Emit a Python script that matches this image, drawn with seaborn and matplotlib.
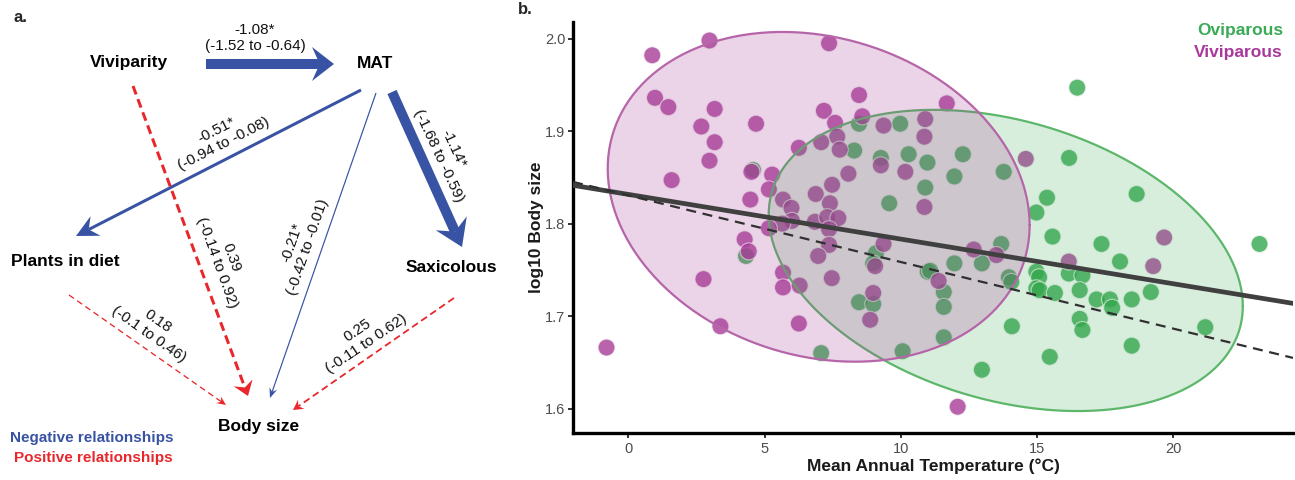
import numpy as np
import pandas as pd
import matplotlib
matplotlib.use("Agg")
import matplotlib.pyplot as plt
from matplotlib.patches import Polygon
import seaborn as sns

# ---------------- data ----------------
viv_temp = [0.88, 2.98, 7.37, 0.98, 1.47, 3.17, 2.68, 4.69, 3.17, 2.98, 1.59, 4.52, 5.28, 5.16, 4.48,
            8.47, 8.59, 7.18, 7.59, 7.67, 7.76, 7.08, 6.26, 8.08, 7.48, 6.88, 7.40, 9.37, 10.90, 10.87,
            9.27, 10.17, 10.87, 5.68, 5.99, 11.69, 14.59, 6.01, 5.65, 5.16, 6.85, 7.30, 7.71, 7.37, 7.37,
            6.97, 4.27, 4.42, 2.76, 5.68, 5.68, 6.29, 7.47, 9.37, 8.99, 8.88, 6.26, 3.38, -0.80, 19.67,
            19.27, 16.17, 12.68, 13.51, 11.39, 12.09, 9.06]
viv_size = [1.982, 1.998, 1.995, 1.936, 1.926, 1.924, 1.905, 1.908, 1.888, 1.868, 1.847, 1.856, 1.853, 1.837, 1.826,
            1.939, 1.916, 1.922, 1.909, 1.894, 1.880, 1.888, 1.882, 1.854, 1.842, 1.832, 1.822, 1.906, 1.913, 1.894,
            1.863, 1.856, 1.818, 1.826, 1.817, 1.930, 1.870, 1.803, 1.800, 1.795, 1.802, 1.807, 1.806, 1.794, 1.777,
            1.765, 1.783, 1.770, 1.740, 1.747, 1.731, 1.733, 1.741, 1.778, 1.725, 1.696, 1.692, 1.689, 1.666, 1.785,
            1.754, 1.759, 1.772, 1.766, 1.738, 1.602, 1.754]
ovi_temp = [4.58, 8.47, 8.29, 9.58, 9.98, 9.27, 10.29, 10.98, 10.90, 16.48, 12.28, 11.97, 13.78, 16.18, 15.37,
            18.66, 14.98, 4.32, 9.09, 8.99, 10.99, 8.47, 8.99, 7.08, 10.07, 15.57, 17.37, 23.17, 18.05, 13.69,
            11.97, 12.98, 11.08, 11.58, 11.58, 11.58, 13.97, 14.06, 14.98, 15.08, 14.98, 15.10, 15.66, 16.17, 16.67,
            16.57, 17.19, 17.68, 17.76, 18.48, 19.18, 16.57, 16.67, 18.48, 21.18, 14.08, 15.47, 12.98]
ovi_size = [1.858, 1.908, 1.879, 1.822, 1.908, 1.871, 1.875, 1.866, 1.839, 1.947, 1.875, 1.851, 1.856, 1.871, 1.828,
            1.832, 1.812, 1.765, 1.768, 1.757, 1.748, 1.715, 1.713, 1.660, 1.662, 1.786, 1.778, 1.778, 1.759, 1.778,
            1.757, 1.757, 1.749, 1.726, 1.710, 1.677, 1.742, 1.737, 1.748, 1.742, 1.730, 1.728, 1.725, 1.746, 1.744,
            1.728, 1.718, 1.718, 1.709, 1.718, 1.726, 1.697, 1.685, 1.668, 1.688, 1.689, 1.656, 1.642]
groups = ["Oviparous", "Viviparous"]
# fitted lines: [intercept, slope]
model_coef = [1.8316, -0.00483]   # solid line
pgls_coef = [1.8305, -0.0072]     # dashed line
x_ticks = [0, 5, 10, 15, 20]
y_ticks = [1.6, 1.7, 1.8, 1.9, 2.0]

# path diagram
nodes = ["Viviparity", "MAT", "Plants in diet", "Saxicolous", "Body size"]
paths = [("Viviparity", "MAT", "-1.08*", "(-1.52 to -0.64)"),
         ("MAT", "Plants in diet", "-0.51*", "(-0.94 to -0.08)"),
         ("MAT", "Saxicolous", "-1.14*", "(-1.68 to -0.59)"),
         ("MAT", "Body size", "-0.21*", "(-0.42 to -0.01)"),
         ("Viviparity", "Body size", "0.39", "(-0.14 to 0.92)"),
         ("Plants in diet", "Body size", "0.18", "(-0.1 to 0.46)"),
         ("Saxicolous", "Body size", "0.25", "(-0.11 to 0.62)")]

GREEN = "#33A84D"
PURPLE = "#A83C98"
BLUE = "#3953A4"
RED = "#E8262B"

df = pd.DataFrame({
    "MAT": ovi_temp + viv_temp,
    "BodySize": ovi_size + viv_size,
    "Mode": ["Oviparous"] * len(ovi_temp) + ["Viviparous"] * len(viv_temp),
})

sns.set_theme(style="ticks")
plt.rcParams["font.family"] = ["Liberation Sans", "DejaVu Sans"]

W, H = 1295, 480
fig = plt.figure(figsize=(W / 100, H / 100), dpi=100)

# ---------------- panel a: path diagram ----------------
axa = fig.add_axes([0, 0, 544 / W, 1])
axa.set_xlim(0, 544)
axa.set_ylim(480, 0)
axa.axis("off")

node_pos = {"Viviparity": (129, 62), "MAT": (375, 64), "Plants in diet": (65, 262),
            "Saxicolous": (451, 268), "Body size": (259, 427)}
for n in nodes:
    axa.text(*node_pos[n], n, ha="center", va="center", fontsize=12.5, fontweight="bold", color="black")

# geometry of arrows (pixels): start, tip, color, line width px, head len, head width, dash
arrow_geom = {
    ("Viviparity", "MAT"): ((206, 64), (334, 64), BLUE, 10, 22, 34, None),
    ("MAT", "Plants in diet"): ((361, 90), (76, 236), BLUE, 3, 22, 22, None),
    ("MAT", "Saxicolous"): ((392, 92), (462, 247), BLUE, 10, 26, 34, None),
    ("MAT", "Body size"): ((376, 93), (270, 398), BLUE, 1.2, 10, 8, None),
    ("Viviparity", "Body size"): ((133, 86), (248, 396), RED, 3, 14, 20, (9, 5)),
    ("Plants in diet", "Body size"): ((69, 295), (226, 405), RED, 1.3, 9, 8, (6, 4)),
    ("Saxicolous", "Body size"): ((454, 298), (293, 410), RED, 1.8, 10, 11, (7, 4)),
}
label_geom = {
    ("Viviparity", "MAT"): ((255, 38), 0),
    ("MAT", "Plants in diet"): ((220, 137), 27),
    ("MAT", "Saxicolous"): ((446, 152), -65),
    ("MAT", "Body size"): ((300, 245), 71),
    ("Viviparity", "Body size"): ((224, 260), -70),
    ("Plants in diet", "Body size"): ((153, 328), -35),
    ("Saxicolous", "Body size"): ((362, 337), 34),
}


def draw_arrow(ax, p0, p1, color, lw_px, hl, hw, dash, notch=0.35):
    p0 = np.asarray(p0, float)
    p1 = np.asarray(p1, float)
    u = (p1 - p0) / np.hypot(*(p1 - p0))
    nv = np.array([-u[1], u[0]])
    base = p1 - hl * u
    shaft_end = p1 - hl * (1 - notch) * u
    lw = lw_px * 0.72
    kw = dict(color=color, lw=lw, solid_capstyle="butt", dash_capstyle="butt")
    if dash is not None:
        kw["linestyle"] = (0, (dash[0] / lw_px, dash[1] / lw_px))
    ax.plot([p0[0], shaft_end[0]], [p0[1], shaft_end[1]], **kw)
    head = [p1, base + hw / 2 * nv, shaft_end, base - hw / 2 * nv]
    ax.add_patch(Polygon(head, closed=True, facecolor=color, edgecolor="none"))


for src, dst, est, ci in paths:
    p0, p1, col, lwp, hl, hw, dash = arrow_geom[(src, dst)]
    draw_arrow(axa, p0, p1, col, lwp, hl, hw, dash)
    (cx, cy), rot = label_geom[(src, dst)]
    axa.text(cx, cy, f"{est}\n{ci}", ha="center", va="center", fontsize=11, rotation=rot,
             rotation_mode="anchor", multialignment="center", linespacing=1.15, color="#111111")

axa.text(92, 438, "Negative relationships", ha="center", va="center", fontsize=11,
         fontweight="bold", color=BLUE)
axa.text(93, 458, "Positive relationships", ha="center", va="center", fontsize=11,
         fontweight="bold", color=RED)
fig.text(13 / W, 1 - 17 / H, "a.", ha="left", va="center", fontsize=12, fontweight="bold")

# ---------------- panel b: scatter ----------------
x0, x1 = 573, 1293
y0, y1 = 22, 433
ax = fig.add_axes([x0 / W, 1 - y1 / H, (x1 - x0) / W, (y1 - y0) / H])

sns.scatterplot(data=df, x="MAT", y="BodySize", hue="Mode", hue_order=groups,
                palette={"Oviparous": GREEN, "Viviparous": PURPLE}, s=150, alpha=0.8,
                edgecolor="#f4f4f4", linewidth=0.8, legend=False, ax=ax, zorder=2)


def cov_trob(x, nu=5, maxit=25, tol=0.01):
    """Multivariate-t robust covariance (as used by ggplot2 stat_ellipse)."""
    n, p = x.shape
    loc = x.mean(axis=0)
    w = np.ones(n)
    X = x - loc
    for _ in range(maxit):
        w0 = w
        X = x - loc
        sw = np.sqrt(w / w.sum())
        _, s, vt = np.linalg.svd(sw[:, None] * X, full_matrices=False)
        wX = X @ vt.T @ np.diag(1 / s)
        Q = (wX ** 2).sum(axis=1)
        w = (nu + p) / (nu + Q)
        loc = (w[:, None] * x).sum(axis=0) / w.sum()
        if np.all(np.abs(w - w0) < tol):
            break
    sx = np.sqrt(w)[:, None] * X
    return loc, sx.T @ sx / n


t = np.linspace(0, 2 * np.pi, 300)
ell_style = {"Oviparous": ("#5DB76A", GREEN, 0.19), "Viviparous": ("#B565A8", PURPLE, 0.22)}
for g in groups:
    xy = df.loc[df["Mode"] == g, ["MAT", "BodySize"]].to_numpy()
    n = len(xy)
    fq = (n - 1) / 2 * (0.05 ** (-2 / (n - 1)) - 1)   # F(0.95; 2, n-1)
    radius = np.sqrt(2 * fq)
    mu, cov = cov_trob(xy)
    R = np.linalg.cholesky(cov).T
    circ = np.column_stack([np.cos(t), np.sin(t)])
    pts = mu + radius * circ @ R
    ec, fc, a = ell_style[g]
    ax.fill(pts[:, 0], pts[:, 1], color=fc, alpha=a, lw=0, zorder=3)
    ax.plot(pts[:, 0], pts[:, 1], color=ec, lw=1.6, zorder=3)

ax.axline((0, model_coef[0]), slope=model_coef[1], color="#404040", lw=3.4, zorder=5)
ax.axline((0, pgls_coef[0]), slope=pgls_coef[1], color="#303030", lw=1.6,
          linestyle=(0, (4.5, 3)), zorder=5)

ax.set_xlim(-2.03, 24.4)
ax.set_ylim(1.5736, 2.018)
ax.set_xticks(x_ticks)
ax.set_yticks(y_ticks)
ax.set_yticklabels([f"{v:.1f}" for v in y_ticks])
ax.set_xlabel("Mean Annual Temperature (°C)", fontsize=12.5, fontweight="bold", color="#1a1a1a", labelpad=2)
ax.set_ylabel("log10 Body size", fontsize=12.5, fontweight="bold", color="#1a1a1a", labelpad=1)
for s in ["top", "right"]:
    ax.spines[s].set_visible(False)
for s in ["left", "bottom"]:
    ax.spines[s].set_linewidth(2.4)
    ax.spines[s].set_color("black")
ax.tick_params(length=3.5, width=1.4, color="#333333", labelcolor="#4D4D4D", labelsize=10.5, pad=3)
ax.tick_params(axis="y", pad=2)

fig.text(1283 / W, 1 - 31 / H, "Oviparous", ha="right", va="center", fontsize=12.5,
         fontweight="bold", color="#3AAA56")
fig.text(1283 / W, 1 - 52 / H, "Viviparous", ha="right", va="center", fontsize=12.5,
         fontweight="bold", color="#A8389B")
fig.text(518 / W, 1 - 9 / H, "b.", ha="left", va="center", fontsize=12, fontweight="bold")

fig.savefig("out.png", dpi=100)
